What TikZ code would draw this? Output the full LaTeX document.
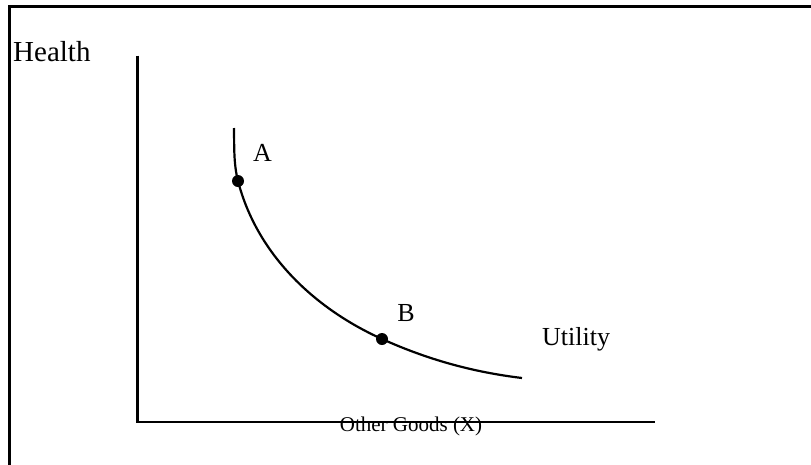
\documentclass[tikz,border=0pt]{standalone}
\usepackage{fontspec}
\setmainfont{Liberation Serif}
\begin{document}
\begin{tikzpicture}[x=1pt,y=-1pt,
  lbl/.style={inner sep=0pt, font=\fontsize{26}{30}\selectfont},
  axisline/.style={line width=2.6pt},
  frameline/.style={line width=2.3pt},
  curveline/.style={line width=2.2pt},
  dot/.style={circle, fill=black, inner sep=0pt, minimum size=12pt}]
\useasboundingbox (0,0) rectangle (811,464);
% frame (open to the right and bottom)
\coordinate (fbl) at (9.5,470);
\coordinate (ftl) at (9.5,6.5);
\coordinate (ftr) at (820,6.5);
\begin{scope}
\clip (0,0) rectangle (811,464);
\draw[frameline] (fbl) -- (ftl) -- (ftr);
\end{scope}
% axes
\coordinate (ytop) at (137.7,55.7);
\coordinate (orig) at (137.7,422);
\coordinate (xend) at (655,422);
\draw[axisline] (ytop) -- (orig) -- (xend);
% indifference curve
\coordinate (ctop) at (234,128);
\coordinate (pA) at (238,181);
\coordinate (pB) at (382,339);
\coordinate (cend) at (522,378);
\draw[curveline] (ctop) .. controls (234.3,146) and (233.5,163.5) .. (pA)
  .. controls (256.8,253.7) and (313.6,308.2) .. (pB)
  .. controls (427.6,359.5) and (472.4,372) .. (cend);
\node[dot] (dA) at (pA) {};
\node[dot] (dB) at (pB) {};
% labels
\node[lbl, font=\fontsize{29}{33}\selectfont, anchor=base west] (health) at (13,61) {Health};
\node[lbl] (lA) at (262.5,153) {A};
\node[lbl] (lB) at (406,313) {B};
\node[lbl, anchor=base west] (util) at (542,345) {Utility};
\node[lbl, font=\fontsize{21}{24}\selectfont, anchor=base] (xlab) at (411,431.7) {Other Goods (X)};
\end{tikzpicture}
\end{document}
